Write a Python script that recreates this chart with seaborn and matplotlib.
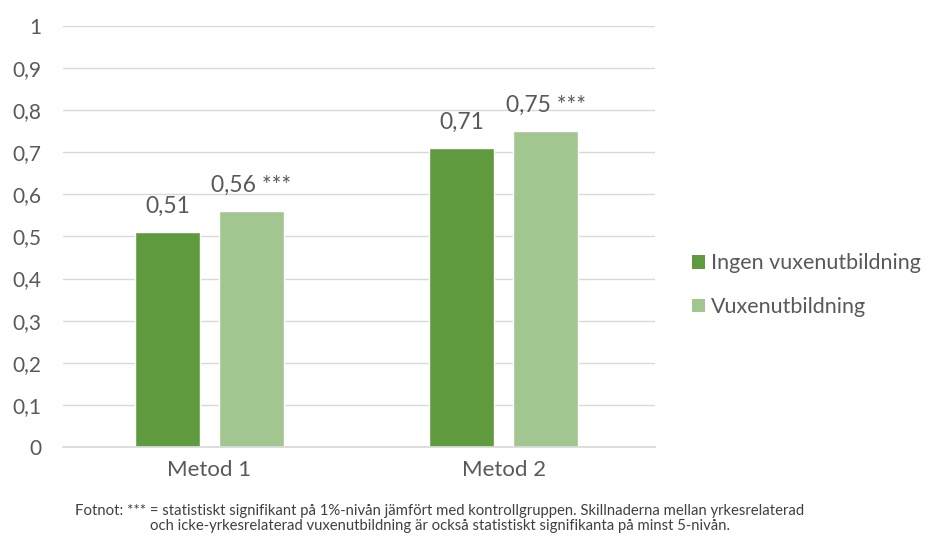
import matplotlib
matplotlib.use("Agg")
import matplotlib.pyplot as plt
import seaborn as sns
import pandas as pd
from matplotlib.patches import Patch

categories = ["Metod 1", "Metod 2"]
series_names = ["Ingen vuxenutbildning", "Vuxenutbildning"]
ingen = [0.51, 0.71]
vuxen = [0.56, 0.75]
label_suffix = ["", " ***"]
yticks = [0, 0.1, 0.2, 0.3, 0.4, 0.5, 0.6, 0.7, 0.8, 0.9, 1.0]
ytick_labels = ["0", "0,1", "0,2", "0,3", "0,4", "0,5", "0,6", "0,7", "0,8", "0,9", "1"]
footnote = ("Fotnot: *** = statistiskt signifikant på 1%-nivån jämfört med kontrollgruppen. "
            "Skillnaderna mellan yrkesrelaterad\n"
            "och icke-yrkesrelaterad vuxenutbildning är också statistiskt signifikanta på minst 5-nivån.")

colors = ["#5F9A3E", "#A2C68F"]
txt = "#595959"

sns.set_theme(style="white")
plt.rcParams["font.family"] = ["Lato", "DejaVu Sans"]

df = pd.DataFrame({
    "cat": categories * 2,
    "series": [series_names[0]] * 2 + [series_names[1]] * 2,
    "val": ingen + vuxen,
})

fig = plt.figure(figsize=(9.3, 5.38), dpi=100)
ax = fig.add_axes([62.5 / 930, 0.169, 592.5 / 930, 0.783])
sns.barplot(data=df, x="cat", y="val", hue="series", palette=colors,
            width=0.571, gap=0.226, ax=ax, legend=False, saturation=1)

ax.set_ylim(0, 1)
ax.set_xlim(-0.5, 1.515)
ax.set_yticks(yticks)
ax.set_yticklabels(ytick_labels)
ax.set_xlabel("")
ax.set_ylabel("")
ax.yaxis.grid(True, color="#D9D9D9", linewidth=1)
ax.set_axisbelow(True)
for s in ["top", "right", "left"]:
    ax.spines[s].set_visible(False)
ax.spines["bottom"].set_color("#D9D9D9")
ax.tick_params(axis="y", length=0, labelsize=15, colors=txt, pad=15)
ax.tick_params(axis="x", length=0, labelsize=16, colors=txt, pad=9)

# data labels
for ci, container in enumerate(ax.containers):
    labels = [f"{v:.2f}".replace(".", ",") + label_suffix[ci] for v in container.datavalues]
    ax.bar_label(container, labels=labels, padding=11, fontsize=16.5, color=txt)

handles = [Patch(facecolor=c, edgecolor="none") for c in colors]
fig.legend(handles, series_names, loc="center left", bbox_to_anchor=(0.723, 0.47),
           frameon=False, fontsize=15.5, labelcolor=txt, handlelength=0.6,
           handleheight=0.6, handletextpad=0.3, labelspacing=1.1)

fig.text(0.473, 0.036, footnote, ha="center", va="center", fontsize=10.7,
         color="#404040", linespacing=1.15)

fig.savefig("out.png", dpi=100, facecolor="white")
